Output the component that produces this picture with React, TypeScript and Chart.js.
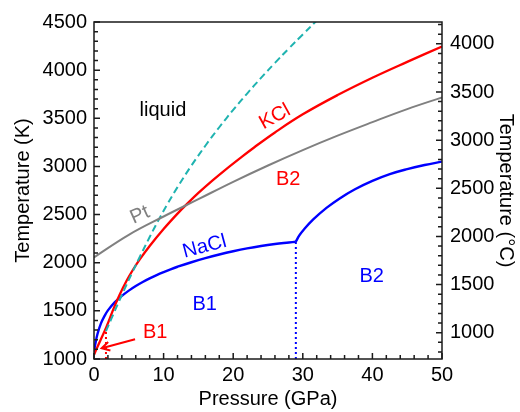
import React, { useEffect, useRef } from 'react';
import { Chart, registerables } from 'chart.js';
Chart.register(...registerables);

const FONT = '"Liberation Sans", Arial, Helvetica, sans-serif';

// Tick labels
const pressureTicks = [0, 10, 20, 30, 40, 50];
const kelvinTicks = [1000, 1500, 2000, 2500, 3000, 3500, 4000, 4500];
const celsiusTicks = [1000, 1500, 2000, 2500, 3000, 3500, 4000];

// NaCl melting curve, B1 branch (P in GPa, T in K)
const naclB1P = [0, 0.2, 0.5, 1, 1.5, 2, 3, 4, 5, 6, 7, 8, 9, 10, 11, 12, 14, 16, 18, 20, 22, 24, 26, 28, 29];
const naclB1T = [1074, 1160, 1260, 1370, 1445, 1505, 1590, 1655, 1710, 1758, 1800, 1838, 1872, 1903, 1932, 1958, 2005, 2047, 2085, 2119, 2149, 2174, 2194, 2210, 2218];
// NaCl melting curve, B2 branch
const naclB2P = [29, 29.5, 30.1, 31.5, 33.4, 35.3, 37.5, 40, 42.5, 45, 47.5, 50];
const naclB2T = [2218, 2283, 2340, 2449, 2569, 2668, 2763, 2850, 2920, 2972, 3015, 3050];
// KCl melting curve
const kclP = [0, 0.4, 0.9, 1.8, 2.8, 3.7, 4.7, 5.6, 6.6, 8, 10, 12, 13.3, 15, 17, 19, 21, 23, 26, 30, 35, 40, 45, 50];
const kclT = [1044, 1110, 1190, 1336, 1521, 1670, 1815, 1927, 2037, 2174, 2350, 2510, 2606, 2725, 2853, 2973, 3087, 3197, 3353, 3541, 3741, 3921, 4086, 4246];
// KCl B2 melting curve (dashed)
const kclB2P = [1.72, 2.5, 3.5, 4.5, 5.5, 6.5, 8, 9.24, 10.5, 12, 14, 16, 18, 20, 22, 24, 26, 28, 30, 32];
const kclB2T = [1290, 1419, 1584, 1744, 1899, 2049, 2267, 2438, 2602, 2785, 3009, 3215, 3407, 3587, 3757, 3919, 4075, 4225, 4371, 4515];
// Pt melting curve
const ptP = [0, 5, 10, 15, 20, 25, 30, 35, 40, 45, 50];
const ptT = [2056, 2290, 2480, 2660, 2840, 3010, 3170, 3320, 3460, 3595, 3717];
// B1-B2 boundaries (dotted)
const naclBoundaryP = [29, 29];
const naclBoundaryT = [1000, 2218];
const kclBoundaryP = [1.72, 1.72];
const kclBoundaryT = [1000, 1290];
// Arrow pointing to KCl B1 field
const arrowP = [5.9, 1.1];
const arrowT = [1205, 1111];

// Text annotations
const labelTexts = ['liquid', 'KCl', 'B2', 'Pt', 'NaCl', 'B1', 'B2', 'B1'];
const labelP = [9.9, 26.0, 27.9, 6.6, 15.9, 15.9, 39.9, 8.8];
const labelT = [3586, 3516, 2866, 2495, 2166, 1561, 1862, 1272];

const RED = '#ff0000';
const BLUE = '#0000ff';
const GRAY = '#808080';
const TEAL = '#1fb3b0';
const labelColors = ['#000', RED, RED, GRAY, BLUE, BLUE, BLUE, RED];
const labelRot = [0, -29, 0, -24, -15, 0, 0, 0];

const K0 = 273.15;

const pts = (P: number[], T: number[]) => P.map((p, i) => ({ x: p, y: T[i] }));

const overlayPlugin = {
  id: 'overlay',
  afterDatasetsDraw(chart: any) {
    const { ctx, chartArea, scales } = chart;
    const { left, right, top, bottom } = chartArea;
    const sx = scales.x, sy = scales.y, sc = scales.y2;
    ctx.save();
    // frame
    ctx.strokeStyle = '#1a1a1a';
    ctx.lineWidth = 1.5;
    ctx.strokeRect(left, top, right - left, bottom - top);
    ctx.beginPath();
    for (let v = 0; v <= 50; v += 2) {
      const px = sx.getPixelForValue(v);
      const len = v % 10 === 0 ? 6 : 4;
      ctx.moveTo(px, bottom);
      ctx.lineTo(px, bottom - len);
    }
    for (let v = 1000; v <= 4500; v += 100) {
      const py = sy.getPixelForValue(v);
      const len = v % 500 === 0 ? 6 : 4;
      ctx.moveTo(left, py);
      ctx.lineTo(left + len, py);
    }
    for (let v = 800; v <= 4200; v += 100) {
      const py = sc.getPixelForValue(v);
      const len = v % 500 === 0 ? 6 : 4;
      ctx.moveTo(right, py);
      ctx.lineTo(right - len, py);
    }
    ctx.stroke();

    // arrow
    const x1 = sx.getPixelForValue(arrowP[0]);
    const y1 = sy.getPixelForValue(arrowT[0]);
    const x2 = sx.getPixelForValue(arrowP[1]);
    const y2 = sy.getPixelForValue(arrowT[1]);
    ctx.strokeStyle = RED;
    ctx.lineWidth = 2;
    ctx.beginPath();
    ctx.moveTo(x1, y1);
    ctx.lineTo(x2, y2);
    const ang = Math.atan2(y1 - y2, x1 - x2);
    const hl = 9;
    ctx.moveTo(x2 + hl * Math.cos(ang + 0.5), y2 + hl * Math.sin(ang + 0.5));
    ctx.lineTo(x2, y2);
    ctx.lineTo(x2 + hl * Math.cos(ang - 0.5), y2 + hl * Math.sin(ang - 0.5));
    ctx.stroke();

    // labels
    ctx.font = `20px ${FONT}`;
    ctx.textAlign = 'center';
    ctx.textBaseline = 'middle';
    labelTexts.forEach((t, i) => {
      const px = sx.getPixelForValue(labelP[i]);
      const py = sy.getPixelForValue(labelT[i]);
      ctx.save();
      ctx.translate(px, py);
      ctx.rotate((labelRot[i] * Math.PI) / 180);
      ctx.fillStyle = labelColors[i];
      ctx.fillText(t, 0, 0);
      ctx.restore();
    });
    ctx.restore();
  },
};

export default function App() {
  const ref = useRef<HTMLCanvasElement>(null);
  useEffect(() => {
    if (!ref.current) return;
    const tickFont = { family: FONT, size: 20 };
    const titleFont = { family: FONT, size: 20, lineHeight: 1.2 };
    const smooth = { tension: 0.4, cubicInterpolationMode: 'default' };
    const chart = new Chart(ref.current, {
      type: 'line',
      data: {
        datasets: [
          { data: pts(ptP, ptT), borderColor: GRAY, borderWidth: 2, ...smooth },
          { data: pts(kclB2P, kclB2T), borderColor: TEAL, borderWidth: 2, borderDash: [7, 4], ...smooth },
          { data: pts(kclP, kclT), borderColor: RED, borderWidth: 2.3, ...smooth },
          { data: pts(naclB1P, naclB1T), borderColor: BLUE, borderWidth: 2.4, ...smooth },
          { data: pts(naclB2P, naclB2T), borderColor: BLUE, borderWidth: 2.4, ...smooth },
          { data: pts(naclBoundaryP, naclBoundaryT), borderColor: BLUE, borderWidth: 2, borderDash: [2, 3], tension: 0 },
          { data: pts(kclBoundaryP, kclBoundaryT), borderColor: RED, borderWidth: 2, borderDash: [2, 3], tension: 0 },
        ] as any,
      },
      options: {
        animation: false,
        responsive: false,
        devicePixelRatio: 1,
        layout: { padding: { top: 22, left: 0, right: 0, bottom: 0 } },
        elements: { point: { radius: 0 } },
        plugins: { legend: { display: false }, tooltip: { enabled: false } },
        scales: {
          x: {
            type: 'linear', min: 0, max: 50, position: 'bottom',
            grid: { display: false, drawTicks: false }, border: { display: false },
            afterBuildTicks: (s: any) => { s.ticks = pressureTicks.map((v) => ({ value: v })); },
            afterFit: (s: any) => { s.height = 53; },
            ticks: { padding: 4, color: '#000', font: tickFont, maxRotation: 0, autoSkip: false, callback: (v: any) => String(v) },
            title: { display: true, text: 'Pressure (GPa)', color: '#000', font: titleFont, padding: { top: 0, bottom: 1 } },
          },
          y: {
            type: 'linear', min: 1000, max: 4500, position: 'left',
            grid: { display: false, drawTicks: false }, border: { display: false },
            afterBuildTicks: (s: any) => { s.ticks = kelvinTicks.map((v) => ({ value: v })); },
            afterFit: (s: any) => { s.width = 94; },
            ticks: { padding: 7, color: '#000', font: tickFont, autoSkip: false, callback: (v: any) => String(v) },
            title: { display: true, text: 'Temperature (K)', color: '#000', font: titleFont, padding: { top: 11, bottom: 0 } },
          },
          y2: {
            type: 'linear', min: 1000 - K0, max: 4500 - K0, position: 'right',
            grid: { display: false, drawTicks: false }, border: { display: false },
            afterBuildTicks: (s: any) => { s.ticks = celsiusTicks.map((v) => ({ value: v })); },
            afterFit: (s: any) => { s.width = 78; },
            ticks: { padding: 8, color: '#000', font: tickFont, autoSkip: false, callback: (v: any) => String(v) },
            title: { display: true, text: 'Temperature (°C)', color: '#000', font: titleFont, padding: { top: 2, bottom: 0 } },
          },
        },
      } as any,
      plugins: [overlayPlugin],
    });
    return () => chart.destroy();
  }, []);
  return (
    <div style={{ position: 'fixed', left: 0, top: 0, width: 520, height: 412, background: '#fff' }}>
      <canvas ref={ref} width={520} height={412} />
    </div>
  );
}
